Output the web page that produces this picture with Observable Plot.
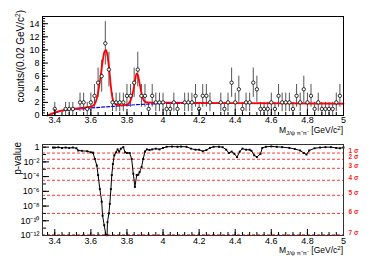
<!DOCTYPE html>
<html><head><meta charset="utf-8">
<script src="https://cdn.jsdelivr.net/npm/d3@7"></script>
<script src="https://cdn.jsdelivr.net/npm/@observablehq/plot@0.6"></script>
<style>
html,body{margin:0;padding:0;background:#fff;}
#wrap{position:relative;width:385px;height:262px;overflow:hidden;background:#fff;}
#top,#bot{position:absolute;left:0;}
#top{top:0;}
#bot{top:136px;}
</style></head>
<body><div id="wrap"><div id="top"></div><div id="bot"></div></div>
<script>
// ---- histogram (counts per 0.02 GeV bin) ----
const binMass = [3.40,3.46,3.48,3.50,3.54,3.56,3.58,3.60,3.62,3.64,3.66,3.68,3.70,3.72,3.74,3.76,3.78,3.80,3.82,3.84,3.86,3.88,3.90,3.92,3.94,3.96,3.98,4.00,4.02,4.04,4.06,4.08,4.12,4.14,4.16,4.18,4.20,4.22,4.24,4.26,4.32,4.34,4.36,4.38,4.40,4.42,4.44,4.46,4.48,4.50,4.52,4.54,4.56,4.58,4.60,4.62,4.64,4.66,4.68,4.70,4.72,4.74,4.76,4.78,4.80,4.82,4.84,4.86,4.88,4.90,4.92,4.94,4.96,4.98];
const binCounts = [1,1,1,1,2,2,1,2,3,5,6,11,7,2,2,2,2,3,3,5,7,3,3,1,3,2,2,2,1,1,2,1,2,2,2,3,1,3,3,2,2,1,2,5,2,4,1,2,2,5,4,1,1,1,2,1,3,2,2,2,1,3,2,4,2,3,1,2,1,1,1,1,2,3];

// ---- total fit (red) ----
const fitMass  = [3.36,3.38,3.40,3.45,3.50,3.55,3.60,3.62,3.635,3.65,3.665,3.675,3.684,3.693,3.704,3.713,3.725,3.74,3.77,3.80,3.82,3.835,3.845,3.853,3.86,3.868,3.879,3.893,3.91,3.95,4.00,4.30,4.70,5.00];
const fitTotal = [0,0.25,0.45,0.82,1.0,1.15,1.35,1.7,2.8,5.2,8.2,9.7,10.0,9.0,6.4,3.9,2.1,1.65,1.55,1.65,2.3,3.8,5.3,6.4,6.2,5.2,3.6,2.3,2.0,1.97,1.95,1.9,1.85,1.8];

// ---- background (blue dashed) ----
const bkgMass   = [3.36,3.38,3.40,3.45,3.50,3.55,3.60,3.65,3.70,3.75,3.80,3.85,3.90,3.95,4.00,4.10,4.30,4.60,5.00];
const bkgValues = [0,0.2,0.4,0.75,0.9,1.02,1.15,1.25,1.35,1.45,1.55,1.65,1.72,1.78,1.83,1.86,1.87,1.85,1.82];

// ---- p-value scan ----
const scanMass = [3.39,3.40,3.42,3.44,3.46,3.48,3.50,3.52,3.53,3.55,3.58,3.60,3.612,3.622,3.633,3.64,3.65,3.66,3.665,3.674,3.683,3.69,3.692,3.70,3.705,3.711,3.716,3.722,3.73,3.74,3.748,3.757,3.766,3.78,3.79,3.80,3.815,3.826,3.835,3.844,3.854,3.863,3.87,3.881,3.89,3.90,3.91,3.925,3.94,3.96,3.98,4.00,4.02,4.05,4.08,4.10,4.13,4.155,4.18,4.20,4.22,4.24,4.26,4.28,4.31,4.33,4.35,4.365,4.38,4.395,4.41,4.425,4.44,4.46,4.48,4.49,4.505,4.52,4.54,4.55,4.57,4.60,4.63,4.66,4.70,4.73,4.76,4.78,4.795,4.81,4.84,4.87,4.90,4.93,4.96,4.98,5.00];
const pValues  = [0.89,0.89,0.95,0.79,0.89,0.76,0.89,0.71,0.35,0.32,0.28,0.2,0.18,0.025,3.2e-3,1.6e-4,2e-6,4e-8,5e-10,2.5e-11,1.26e-12,1.1e-12,6.3e-11,1e-9,2e-8,2e-6,1.6e-4,5e-3,0.079,0.2,0.5,0.25,0.63,1,0.2,0.16,0.16,0.025,2.5e-4,4e-6,1.6e-4,1.8e-4,4e-4,2e-3,0.025,0.25,0.5,0.4,0.5,0.63,0.5,0.79,1.12,1.2,1.12,1.2,1.12,0.63,0.45,0.45,0.28,0.4,0.79,1.12,1.12,1,0.45,0.16,0.25,0.126,0.045,0.25,0.63,0.45,0.45,0.32,0.079,0.045,0.126,0.79,1.12,1.26,1.12,1,0.79,0.56,0.35,0.16,0.1,0.35,0.71,0.89,1,1,0.79,0.71,0.89];

// ---- significance levels ----
const sigmaP = [0.1587,0.02275,1.35e-3,3.17e-5,2.87e-7,9.87e-10,1.28e-12];
const sigmaLabels = ["1 σ","2 σ","3 σ","4 σ","5 σ","6 σ","7 σ"];

// ---- ticks ----
const xTicks = [3.4,3.6,3.8,4.0,4.2,4.4,4.6,4.8,5.0];
const yTicksTop = [0,2,4,6,8,10,12,14];
const pTicksLabelled = [1,1e-2,1e-4,1e-6,1e-8,1e-10,1e-12];

const FONT = "'Liberation Sans', Arial, Helvetica, sans-serif";
const xMinor = d3.range(0, 42).map(i => 3.36 + 0.04 * i).filter(v => v <= 5.0001);
const yMinorTop = d3.range(0, 38).map(i => 0.4 * i).filter(v => v <= 15);
const pDecades = d3.range(0, 13).map(e => Math.pow(10, -e));

const sup = {"-":"⁻","0":"⁰","1":"¹","2":"²","3":"³","4":"⁴","5":"⁵","6":"⁶","7":"⁷","8":"⁸","9":"⁹"};
const logFmt = d => { const e = Math.round(Math.log10(d)); return e === 0 ? "1" : "10" + String(e).split("").map(c => sup[c]).join(""); };

const histo = binMass.map((m, i) => ({m, n: binCounts[i]}));
const fit = fitMass.map((m, i) => ({m, y: fitTotal[i]}));
const bkg = bkgMass.map((m, i) => ({m, y: bkgValues[i]}));
const scan = scanMass.map((m, i) => ({m, p: pValues[i]}));
const sig = sigmaP.map((p, i) => ({p, label: sigmaLabels[i]}));

const xDomain = [3.332, 5.0];

const topChart = Plot.plot({
  width: 385, height: 136,
  marginLeft: 42, marginRight: 42, marginTop: 16, marginBottom: 21,
  x: {domain: xDomain}, y: {domain: [0, 15.1]},
  style: {fontFamily: FONT, fontSize: "9px", background: "transparent", color: "black"},
  marks: [
    Plot.ruleX(histo, {x: "m", y1: d => d.n - Math.sqrt(d.n), y2: d => d.n + Math.sqrt(d.n), stroke: "#555", strokeWidth: 1}),
    Plot.line(bkg, {x: "m", y: "y", stroke: "blue", strokeWidth: 1.2, strokeDasharray: "3,2", curve: "monotone-x"}),
    Plot.line(fit, {x: "m", y: "y", stroke: "red", strokeWidth: 1.8, curve: "monotone-x"}),
    Plot.dot(histo, {x: "m", y: "n", r: 1.7, stroke: "black", fill: "white", strokeWidth: 0.8}),
    Plot.axisX({ticks: xMinor, tickSize: -3, tickFormat: () => "", label: null}),
    Plot.axisX({ticks: xTicks, tickSize: -6, tickFormat: () => "", label: null}),
    Plot.axisX({ticks: xTicks, tickSize: 0, tickPadding: 1, tickFormat: d3.format("~g"), label: null}),
    Plot.axisY({ticks: yMinorTop, tickSize: -3, tickFormat: () => "", label: null}),
    Plot.axisY({ticks: yTicksTop, tickSize: -6, tickFormat: () => "", label: null}),
    Plot.axisY({ticks: yTicksTop, tickSize: 0, tickPadding: 3, tickFormat: d3.format("~g"), label: null}),
    Plot.frame({stroke: "black"})
  ]
});

const botChart = Plot.plot({
  width: 385, height: 126,
  marginLeft: 42, marginRight: 42, marginTop: 8, marginBottom: 27,
  x: {domain: xDomain}, y: {type: "log", domain: [1e-12, 2.3]},
  style: {fontFamily: FONT, fontSize: "9px", background: "transparent", color: "black"},
  marks: [
    Plot.ruleY(sig, {y: "p", stroke: "#ff3838", strokeDasharray: "3,2", strokeWidth: 1}),
    Plot.text(sig, {x: () => 5.0, y: "p", text: "label", dx: 5, dy: -2, textAnchor: "start", fill: "#ff1a1a", fontSize: 6.5, fontWeight: "bold"}),
    Plot.line(scan, {x: "m", y: "p", stroke: "black", strokeWidth: 1}),
    Plot.dot(scan, {x: "m", y: "p", symbol: "square", r: 1.1, fill: "black"}),
    Plot.axisX({ticks: xMinor, tickSize: -3, tickFormat: () => "", label: null}),
    Plot.axisX({ticks: xTicks, tickSize: -6, tickFormat: () => "", label: null}),
    Plot.axisX({ticks: xTicks, tickSize: 0, tickPadding: 2, tickFormat: d3.format("~g"), label: null}),
    Plot.axisY({ticks: pDecades, tickSize: -4, tickFormat: () => "", label: null}),
    Plot.axisY({ticks: pTicksLabelled, tickSize: -7, tickFormat: () => "", label: null}),
    Plot.axisY({ticks: pTicksLabelled, tickSize: 0, tickPadding: 3, tickFormat: logFmt, label: null}),
    Plot.frame({stroke: "#333"})
  ]
});

document.getElementById("top").appendChild(topChart);
document.getElementById("bot").appendChild(botChart);

function xTitle(svg, y) {
  const t = d3.select(svg).append("text")
    .attr("x", 343).attr("y", y).attr("text-anchor", "end")
    .attr("font-family", FONT).attr("font-size", 8.5).attr("fill", "black");
  t.append("tspan").text("M");
  t.append("tspan").attr("font-size", 6).attr("dy", 2).text("J/ψ π⁺π⁻");
  t.append("tspan").attr("dy", -2).text(" [GeV/c");
  t.append("tspan").attr("font-size", 6).attr("dy", -3.5).text("2");
  t.append("tspan").attr("dy", 3.5).text("]");
}
function yTitle(svg, x, yEnd, parts) {
  const t = d3.select(svg).append("text")
    .attr("transform", `translate(${x},${yEnd}) rotate(-90)`)
    .attr("text-anchor", "end")
    .attr("font-family", FONT).attr("font-size", 10).attr("fill", "black");
  parts.forEach(p => {
    const s = t.append("tspan").text(p.t);
    if (p.fs) s.attr("font-size", p.fs);
    if (p.dy) s.attr("dy", p.dy);
  });
}
xTitle(topChart, 133);
xTitle(botChart, 117);
yTitle(topChart, 24, 10, [{t: "counts/(0.02 GeV/c"}, {t: "2", fs: 6.5, dy: -4}, {t: ")", dy: 4}]);
yTitle(botChart, 21, 6, [{t: "p-value"}]);
</script>
</body></html>
